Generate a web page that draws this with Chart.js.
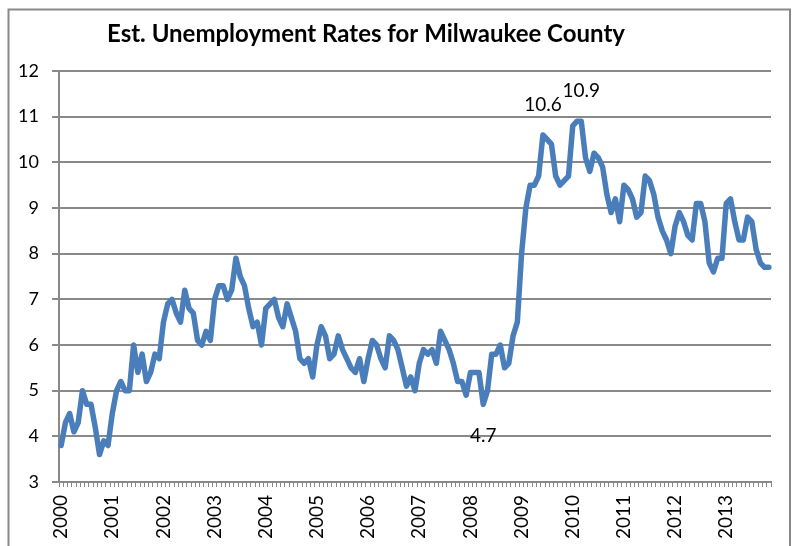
<!DOCTYPE html>
<html><head><meta charset="utf-8">
<script src="https://cdn.jsdelivr.net/npm/chart.js@4.4.1/dist/chart.umd.min.js"></script>
<style>html,body{margin:0;padding:0;background:#fff;} canvas{display:block;}</style>
</head><body>
<canvas id="c" width="801" height="546"></canvas>
<script>
const chartTitle = 'Est. Unemployment Rates for Milwaukee County';
const years = ['2000','2001','2002','2003','2004','2005','2006','2007','2008','2009','2010','2011','2012','2013'];
const rate2000 = [3.8, 4.3, 4.5, 4.1, 4.3, 5.0, 4.7, 4.7, 4.2, 3.6, 3.9, 3.8];
const rate2001 = [4.5, 5.0, 5.2, 5.0, 5.0, 6.0, 5.4, 5.8, 5.2, 5.4, 5.8, 5.7];
const rate2002 = [6.5, 6.9, 7.0, 6.7, 6.5, 7.2, 6.8, 6.7, 6.1, 6.0, 6.3, 6.1];
const rate2003 = [7.0, 7.3, 7.3, 7.0, 7.2, 7.9, 7.5, 7.3, 6.8, 6.4, 6.5, 6.0];
const rate2004 = [6.8, 6.9, 7.0, 6.6, 6.4, 6.9, 6.6, 6.3, 5.7, 5.6, 5.7, 5.3];
const rate2005 = [6.0, 6.4, 6.2, 5.7, 5.8, 6.2, 5.9, 5.7, 5.5, 5.4, 5.7, 5.2];
const rate2006 = [5.7, 6.1, 6.0, 5.7, 5.5, 6.2, 6.1, 5.9, 5.5, 5.1, 5.3, 5.0];
const rate2007 = [5.6, 5.9, 5.8, 5.9, 5.6, 6.3, 6.1, 5.9, 5.6, 5.2, 5.2, 4.9];
const rate2008 = [5.4, 5.4, 5.4, 4.7, 5.0, 5.8, 5.8, 6.0, 5.5, 5.6, 6.2, 6.5];
const rate2009 = [8.0, 9.0, 9.5, 9.5, 9.7, 10.6, 10.5, 10.4, 9.7, 9.5, 9.6, 9.7];
const rate2010 = [10.8, 10.9, 10.9, 10.1, 9.8, 10.2, 10.1, 9.9, 9.3, 8.9, 9.2, 8.7];
const rate2011 = [9.5, 9.4, 9.2, 8.8, 8.9, 9.7, 9.6, 9.3, 8.8, 8.5, 8.3, 8.0];
const rate2012 = [8.6, 8.9, 8.7, 8.4, 8.3, 9.1, 9.1, 8.7, 7.8, 7.6, 7.9, 7.9];
const rate2013 = [9.1, 9.2, 8.7, 8.3, 8.3, 8.8, 8.7, 8.1, 7.8, 7.7, 7.7];
const yTickValues = [3, 4, 5, 6, 7, 8, 9, 10, 11, 12];
const labelledPoints = [ {index: 113, side: 'above'}, {index: 122, side: 'above'}, {index: 99, side: 'below'} ];

const values = [].concat(rate2000, rate2001, rate2002, rate2003, rate2004, rate2005, rate2006,
  rate2007, rate2008, rate2009, rate2010, rate2011, rate2012, rate2013);
const categories = [];
years.forEach(y => { for (let m = 1; m <= 12; m++) { if (categories.length < values.length) categories.push(y + '-' + String(m).padStart(2, '0')); } });

const FONT = "Lato, 'Open Sans', sans-serif";
const GRAY = '#898989';

const bgPlugin = {
  id: 'bg',
  beforeDraw(chart) {
    const c = chart.ctx;
    c.save(); c.fillStyle = '#fff'; c.fillRect(0, 0, chart.width, chart.height); c.restore();
  },
  afterDraw(chart) {
    const c = chart.ctx;
    c.save();
    c.strokeStyle = GRAY; c.lineWidth = 2;
    c.strokeRect(8.5, 9.5, 781.5, 700);
    c.fillStyle = '#000';
    c.font = 'bold 100px ' + FONT;
    const w = c.measureText(chartTitle).width;
    const size = 100 * 518 / w;
    c.font = 'bold ' + size.toFixed(2) + 'px ' + FONT;
    c.textAlign = 'center'; c.textBaseline = 'alphabetic';
    c.fillText(chartTitle, 366, 42);
    c.restore();
  }
};

const labelPlugin = {
  id: 'ptlabels',
  afterDatasetsDraw(chart) {
    const c = chart.ctx;
    const meta = chart.getDatasetMeta(0);
    c.save();
    c.fillStyle = '#000';
    c.font = '19px ' + FONT;
    c.textAlign = 'center'; c.textBaseline = 'alphabetic';
    labelledPoints.forEach(p => {
      const el = meta.data[p.index];
      const txt = values[p.index].toFixed(1);
      if (p.side === 'above') c.fillText(txt, el.x, el.y - 24);
      else c.fillText(txt, el.x, el.y + 38);
    });
    c.restore();
  }
};

new Chart(document.getElementById('c').getContext('2d'), {
  type: 'line',
  data: {
    labels: categories,
    datasets: [{
      data: values, borderColor: '#4A7EBB', borderWidth: 5.5, pointRadius: 0, tension: 0,
      borderJoinStyle: 'round', borderCapStyle: 'round', fill: false
    }]
  },
  options: {
    responsive: false, animation: false, devicePixelRatio: 1,
    layout: { padding: { left: 0, right: 30, top: 71, bottom: 0 } },
    plugins: { legend: { display: false }, title: { display: false }, tooltip: { enabled: false } },
    scales: {
      x: {
        type: 'category', offset: true,
        grid: { display: true, drawOnChartArea: false, drawTicks: true, tickLength: 5, color: GRAY, lineWidth: 1, offset: true },
        border: { display: true, color: GRAY, width: 2 },
        ticks: {
          autoSkip: false, maxRotation: 90, minRotation: 90, padding: 8, color: '#000',
          font: { family: FONT, size: 19 },
          callback: function (v, i) { const c = categories[i]; return c.endsWith('-01') ? c.slice(0, 4) : ''; }
        },
        afterFit(s) { s.height = 64; }
      },
      y: {
        min: 3, max: 12,
        afterBuildTicks(s) { s.ticks = yTickValues.map(v => ({ value: v })); },
        ticks: { stepSize: 1, padding: 13, color: '#000', font: { family: FONT, size: 18 } },
        grid: { color: GRAY, lineWidth: 2, tickLength: 7 },
        border: { display: true, color: GRAY, width: 2 },
        afterFit(s) { s.width = 59; }
      }
    }
  },
  plugins: [bgPlugin, labelPlugin]
});
</script>
</body></html>
